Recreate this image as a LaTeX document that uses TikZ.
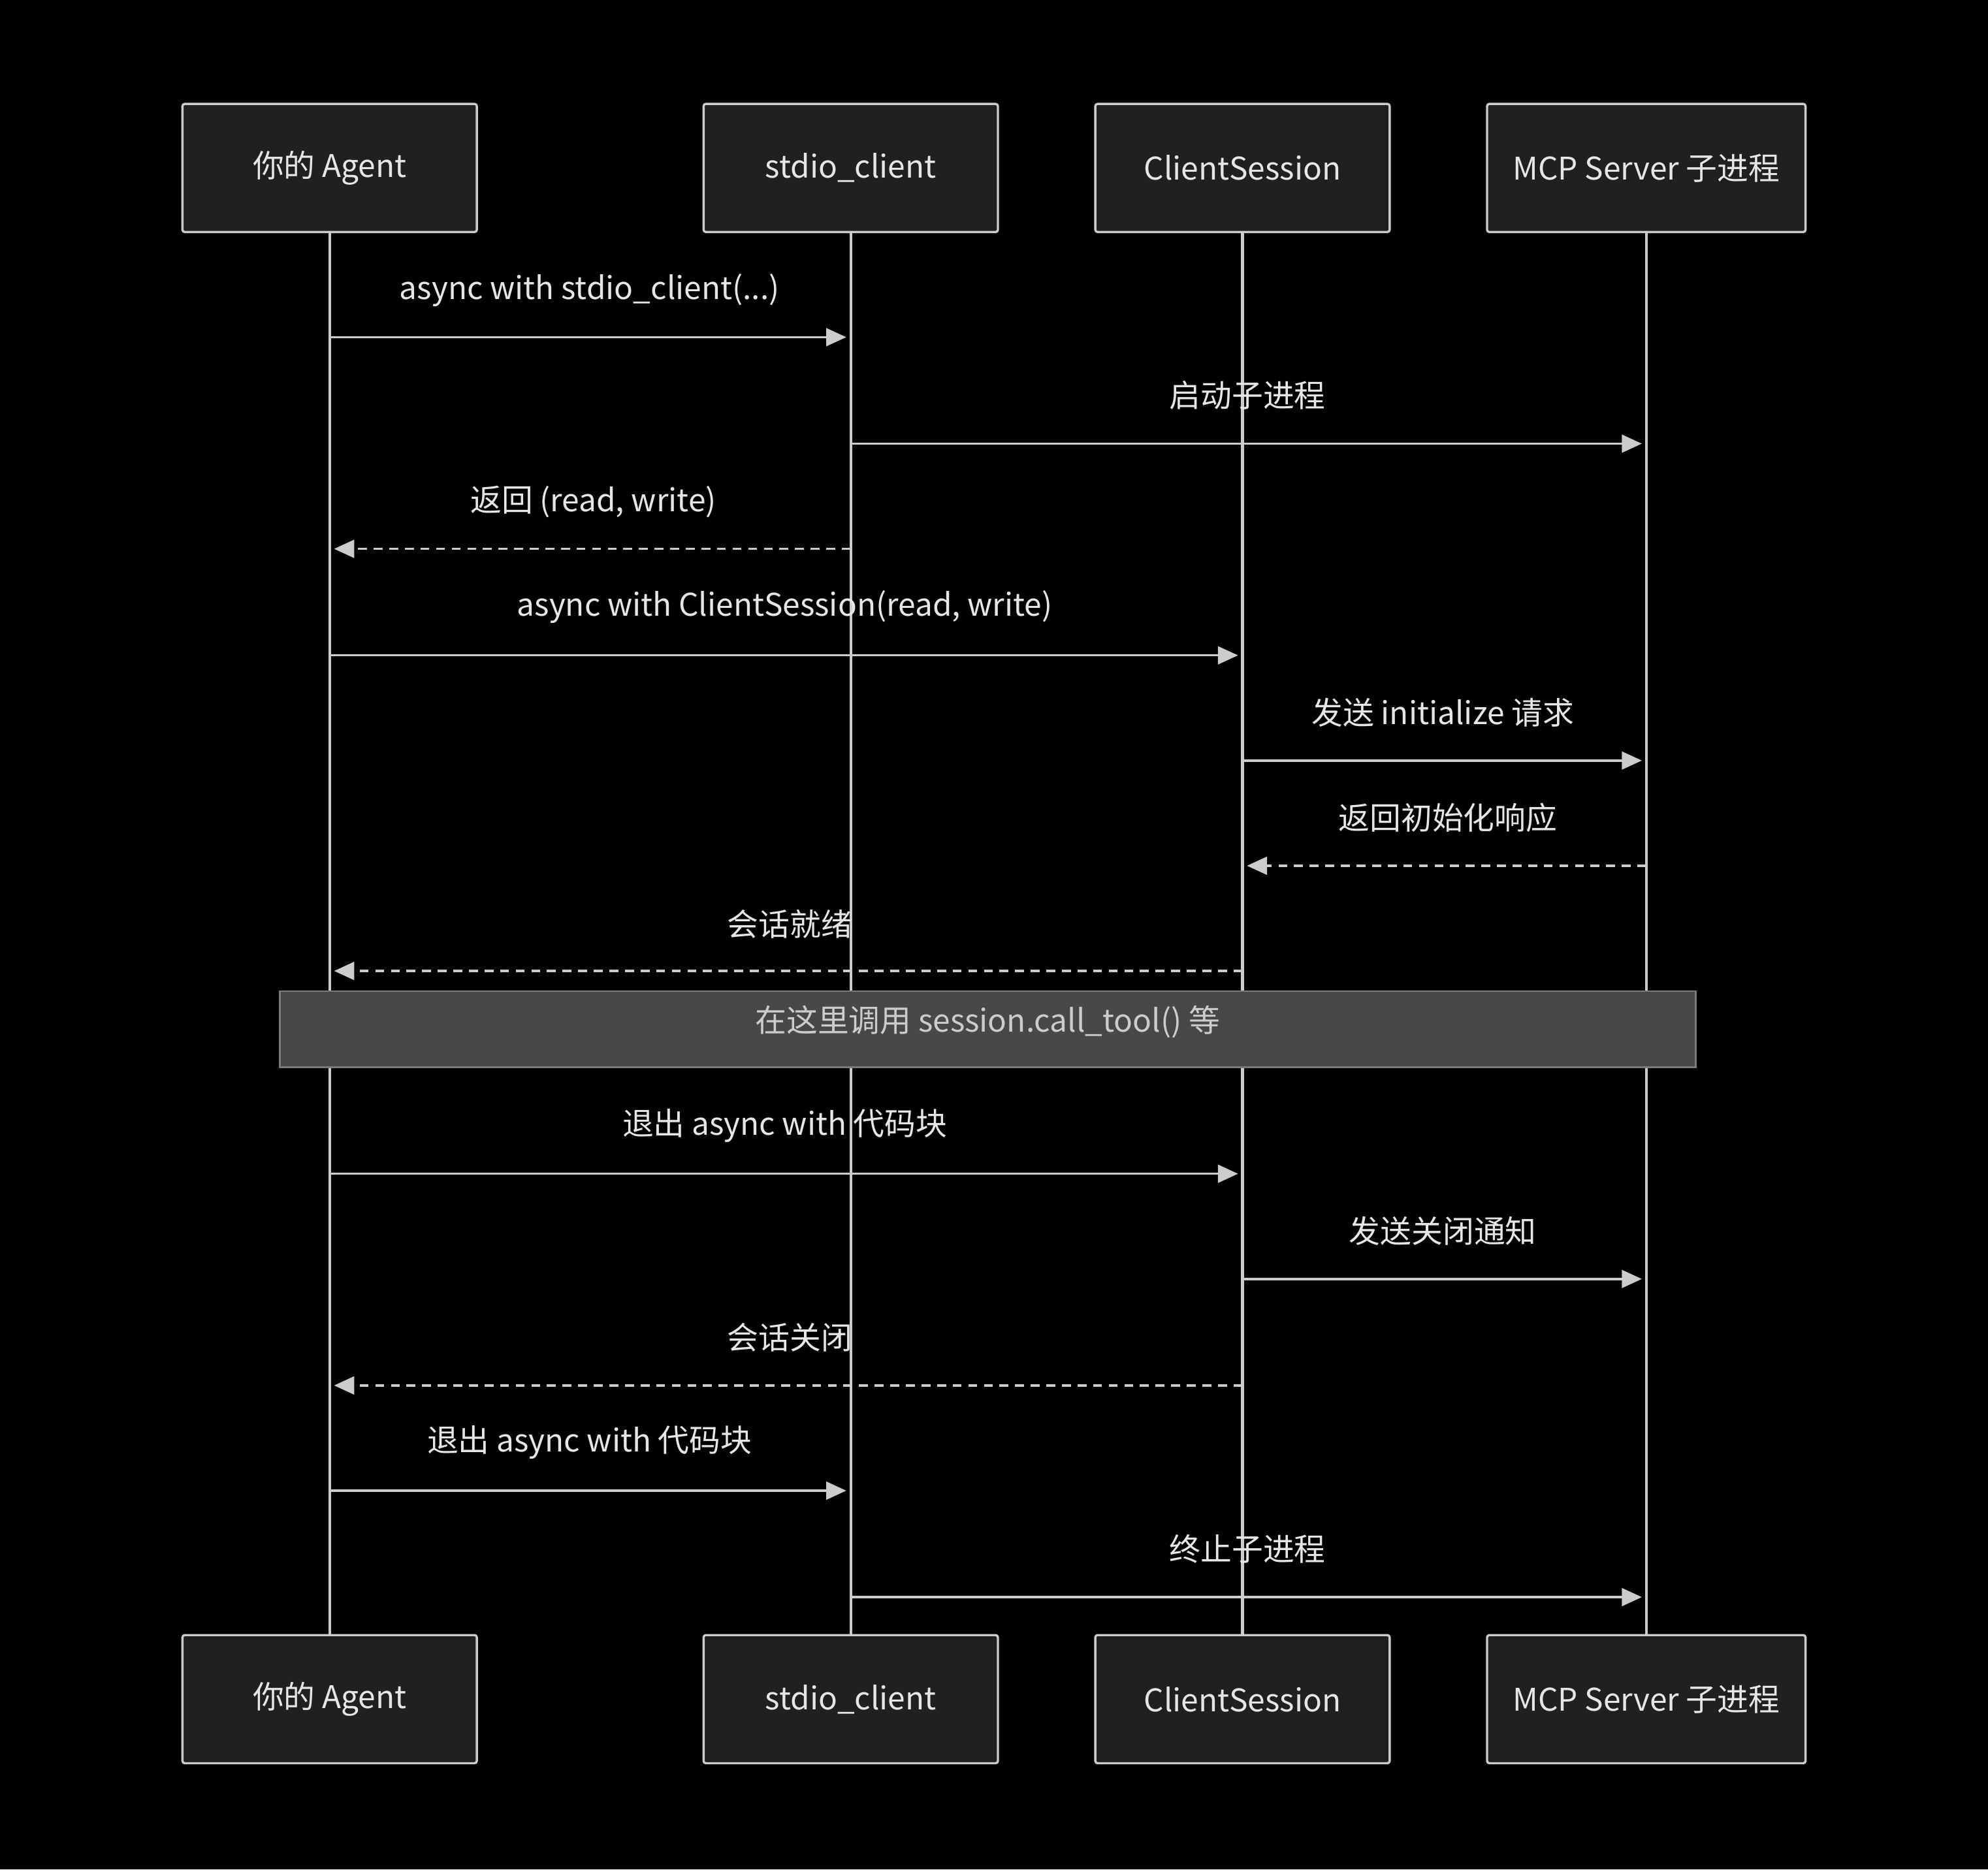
\documentclass[tikz,border=0pt]{standalone}
\usepackage{fontspec}
\setmainfont{Noto Sans CJK SC}
\usetikzlibrary{arrows.meta}
\definecolor{bg}{HTML}{000000}
\definecolor{boxfill}{HTML}{1F2020}
\definecolor{ln}{HTML}{CCCCCC}
\definecolor{tx}{HTML}{E6E6E6}
\definecolor{notefill}{HTML}{474848}
\definecolor{notetx}{HTML}{CCCCCC}
\begin{document}
\begin{tikzpicture}[x=0.01cm,y=-0.01cm,
  actor/.style={draw=ln,fill=boxfill,line width=0.5pt,rounded corners=0.5pt,minimum width=2.32cm,minimum height=1.01cm,text=tx,font=\fontsize{7}{8}\selectfont,inner sep=0},
  life/.style={draw=ln,line width=0.6pt},
  msg/.style={draw=ln,line width=0.5pt,-{Triangle[length=4.5pt,width=4pt]},shorten >=1pt},
  rmsg/.style={msg,dashed,dash pattern=on 2pt off 1.5pt},
  lab/.style={text=tx,font=\fontsize{7}{8}\selectfont,inner sep=0}]
\fill[bg] (0,0) rectangle (1568,1475);
\useasboundingbox (0,0) rectangle (1568,1475);
% top actors
\node[actor] (t1) at (260,132.5) {你的 Agent};
\node[actor] (t2) at (671,132.5) {stdio\_client};
\node[actor] (t3) at (980,132.5) {ClientSession};
\node[actor,minimum width=2.51cm] (t4) at (1298.5,132.5) {MCP Server 子进程};
\node[actor] (b1) at (260,1340.5) {你的 Agent};
\node[actor] (b2) at (671,1340.5) {stdio\_client};
\node[actor] (b3) at (980,1340.5) {ClientSession};
\node[actor,minimum width=2.51cm] (b4) at (1298.5,1340.5) {MCP Server 子进程};
\foreach \i in {1,2,3,4} \draw[life] (t\i.south) -- (b\i.north);
% messages
\draw[msg] (t1 |- 0,266) -- (t2 |- 0,266);
\node[lab] at (465,229) {async with stdio\_client(...)};
\draw[msg] (t2 |- 0,350) -- (t4 |- 0,350);
\node[lab] at (984,312) {启动子进程};
\draw[rmsg] (t2 |- 0,433) -- (t1 |- 0,433);
\node[lab] at (468,396) {返回 (read, write)};
\draw[msg] (t1 |- 0,517) -- (t3 |- 0,517);
\node[lab] at (619,479) {async with ClientSession(read, write)};
\draw[msg] (t3 |- 0,600) -- (t4 |- 0,600);
\node[lab] at (1138,562) {发送 initialize 请求};
\draw[rmsg] (t4 |- 0,683) -- (t3 |- 0,683);
\node[lab] at (1142,645) {返回初始化响应};
\draw[rmsg] (t3 |- 0,766) -- (t1 |- 0,766);
\node[lab] at (623,729) {会话就绪};
% note
\node[draw=ln!60!black,fill=notefill,line width=0.4pt,minimum width=11.16cm,minimum height=0.6cm,text=notetx,font=\fontsize{7}{8}\selectfont,inner sep=0] (note) at (779,812) {};
\node[lab,text=notetx] at (779,806) {在这里调用 session.call\_tool() 等};
\draw[msg] (t1 |- 0,926) -- (t3 |- 0,926);
\node[lab] at (619,888) {退出 async with 代码块};
\draw[msg] (t3 |- 0,1009) -- (t4 |- 0,1009);
\node[lab] at (1138,971) {发送关闭通知};
\draw[rmsg] (t3 |- 0,1093) -- (t1 |- 0,1093);
\node[lab] at (623,1055) {会话关闭};
\draw[msg] (t1 |- 0,1176) -- (t2 |- 0,1176);
\node[lab] at (465,1138) {退出 async with 代码块};
\draw[msg] (t2 |- 0,1260) -- (t4 |- 0,1260);
\node[lab] at (984,1222) {终止子进程};
\end{tikzpicture}
\end{document}
